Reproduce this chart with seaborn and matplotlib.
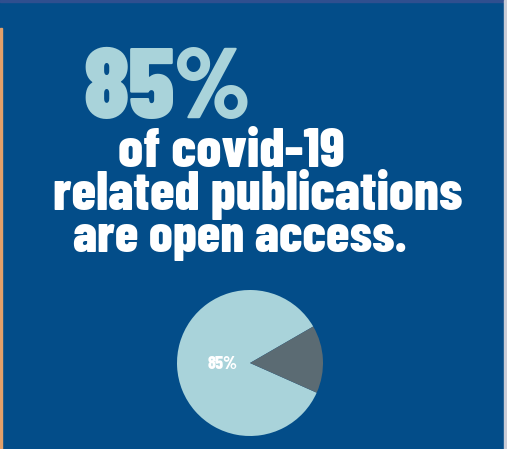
import matplotlib.pyplot as plt
import seaborn as sns

# share of covid-19 related publications
labels = ["Open access", "Closed"]
shares = [85, 15]
headline = "85%"
lines = ["of covid-19", "related publications", "are open access."]

BG = "#034d89"
LIGHT = "#a9d3da"
DARK = "#5b6b73"

sns.set_theme(style="white")
FAM = ["Barlow Condensed", "DejaVu Sans"]

W, H = 507, 449
fig = plt.figure(figsize=(W / 100, H / 100), dpi=100)
fig.patch.set_facecolor(BG)


def px(x, y):
    return x / W, 1 - y / H


# thin frame edges seen in the screenshot
fig.patches.append(plt.Rectangle(px(0, H), 2 / W, (H - 28) / H, transform=fig.transFigure,
                                 color="#e2a06a", zorder=0))
fig.patches.append(plt.Rectangle(px(0, 2), 1, 2 / H, transform=fig.transFigure,
                                 color="#2f4f8f", zorder=0))
fig.patches.append(plt.Rectangle(px(504, H), 3 / W, 1, transform=fig.transFigure,
                                 color="#c9ccd6", zorder=0))

renderer = fig.canvas.get_renderer()


def fitted_text(x0, x1, base, s, color, size=40, weight=800):
    # scale the font so the line spans x0..x1 like the original
    t = fig.text(*px(x0, base), s, color=color, fontsize=size, fontweight=weight,
                 family=FAM, ha="left", va="baseline")
    w = t.get_window_extent(renderer).width
    t.set_fontsize(size * (x1 - x0) / w)
    return t


fitted_text(83, 250, 118, headline, LIGHT, 80, weight=900)
fitted_text(118, 345, 167, lines[0], "white")
fitted_text(53, 462, 210, lines[1], "white")
fitted_text(73, 407, 252, lines[2], "white")

# pie
cx, cy, r = 250, 363, 73
ax = fig.add_axes([(cx - r) / W, (H - cy - r) / H, 2 * r / W, 2 * r / H])
wedges, texts, autotexts = ax.pie(shares, colors=[LIGHT, DARK], startangle=30,
                                  autopct="%d%%", pctdistance=0.38,
                                  wedgeprops=dict(linewidth=0),
                                  textprops=dict(color="white", fontsize=13,
                                                 fontweight=800, family=FAM))
autotexts[1].set_visible(False)
ax.set_xlim(-1, 1)
ax.set_ylim(-1, 1)
ax.set_aspect("equal")
ax.axis("off")

fig.savefig("out.png", dpi=100, facecolor=BG)
